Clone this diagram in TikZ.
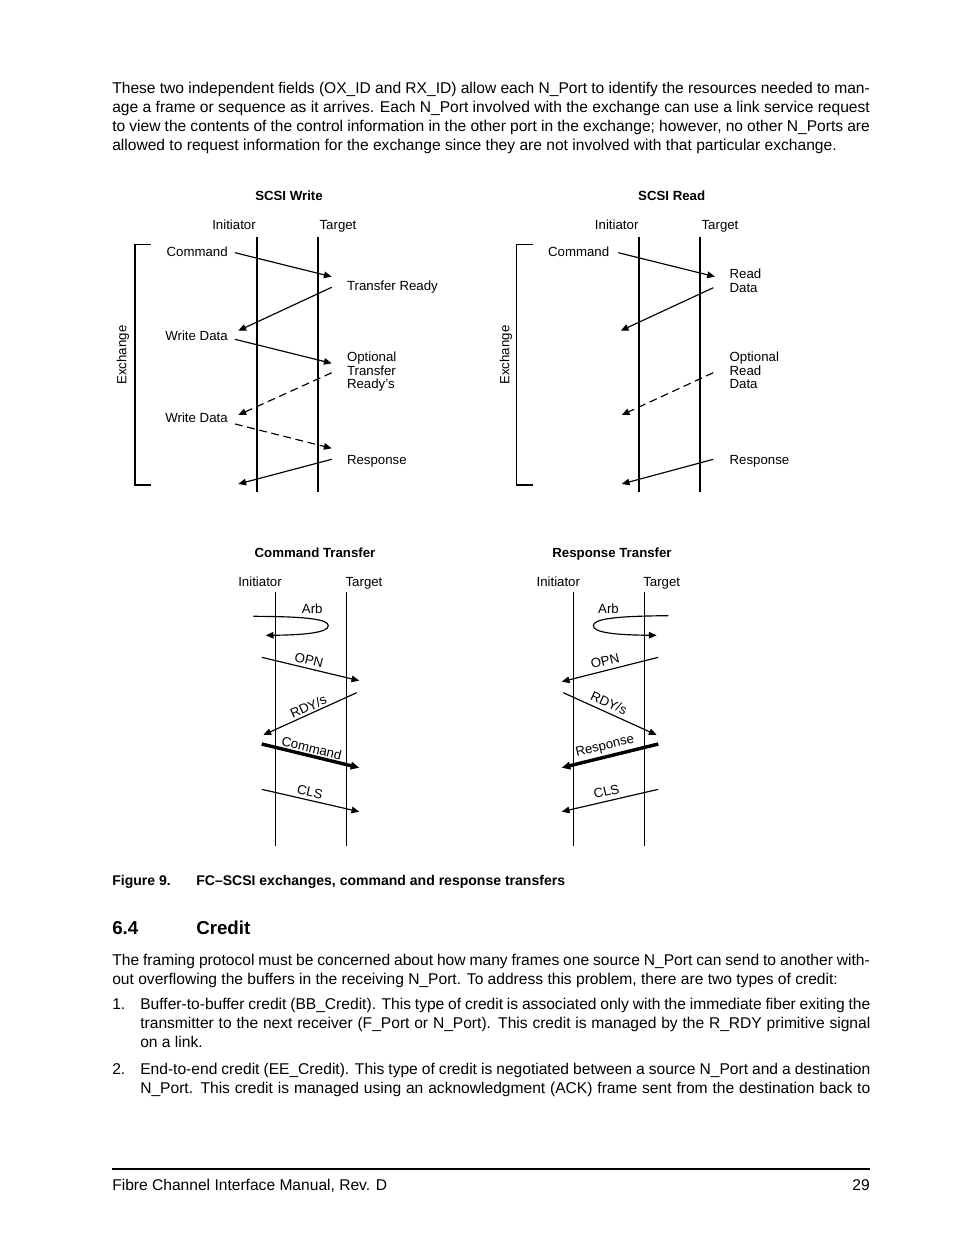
\documentclass[tikz,border=0pt]{standalone}
\usepackage{fontspec}
\setmainfont{Liberation Sans}
\usetikzlibrary{arrows.meta}

% justified line of running text
\newcommand{\jline}[2]{\makebox[#1][s]{#2}}

\begin{document}
\begin{tikzpicture}[
		x=0.6415pt, y=-0.6415pt,
		every node/.style={font=\fontsize{8.5}{10}\selectfont, inner sep=0pt},
		body/.style={font=\fontsize{10}{12}\selectfont, anchor=base west},
		title/.style={font=\bfseries\fontsize{8.5}{10}\selectfont, anchor=base},
		head/.style={anchor=base},
		lbl/.style={anchor=base west, align=left, font=\fontsize{8.5}{8.7}\selectfont},
		lblr/.style={anchor=base east},
		lifeline/.style={line width=1pt},
		msg/.style={line width=0.75pt, -{Triangle[length=5pt,width=4.2pt]}},
		opt/.style={msg, dash pattern=on 5pt off 3pt},
		heavy/.style={line width=2.2pt, -{Triangle[length=5.5pt,width=4.8pt]}}
		]
		\useasboundingbox (0,0) rectangle (954,1235);
		
		% Texto inicial
		\node[body] (p1a) at (112,93) {\jline{486pt}{These two independent fields (OX\_ID and RX\_ID) allow each N\_Port to identify the resources needed to man-}};
		\node[body] (p1b) at (112,112) {\jline{486pt}{age a frame or sequence as it arrives. Each N\_Port involved with the exchange can use a link service request}};
		\node[body] (p1c) at (112,131) {\jline{486pt}{to view the contents of the control information in the other port in the exchange; however, no other N\_Ports are}};
		\node[body] (p1d) at (112,150) {allowed to request information for the exchange since they are not involved with that particular exchange.};
		
		% SCSI Write
		\node[title] (wtitle) at (289,200.5) {SCSI Write};
		\node[head] (wini) at (234,229.5) {Initiator};
		\node[head] (wtgt) at (338,229.5) {Target};
		\draw[lifeline] (257,237) coordinate (wi1) -- (257,492) coordinate (wi2);
		\draw[lifeline] (318,237) coordinate (wt1) -- (318,492) coordinate (wt2);
		\draw[line width=0.9pt] (151,244.3) -- (135,244.3) -- (135,485) -- (151,485);
		\node[rotate=90] (wexch) at (123,355) {Exchange};
		
		\node[lblr] (wcmd) at (228,256.5) {Command};
		\node[lbl] (wxfr) at (346.7,290.5) {Transfer Ready};
		\node[lblr] (wdat1) at (228,340.3) {Write Data};
		\node[lbl] (wopt) at (346.7,388.7) {Optional\\Transfer\\Ready’s};
		\node[lblr] (wdat2) at (228,422) {Write Data};
		\node[lbl] (wrsp) at (346.7,464) {Response};
		
		\coordinate (wa1) at (235,252.7);   \coordinate (wb1) at (331.7,276.7);
		\coordinate (wa2) at (331.7,287.3); \coordinate (wb2) at (238.3,330.7);
		\coordinate (wa3) at (235,339.3);   \coordinate (wb3) at (331.7,363.3);
		\coordinate (wa4) at (331.7,372.7); \coordinate (wb4) at (238.3,415);
		\coordinate (wa5) at (235,424);     \coordinate (wb5) at (331.7,448.3);
		\coordinate (wa6) at (331.7,459.3); \coordinate (wb6) at (238.3,484);
		\draw[msg] (wa1) -- (wb1);
		\draw[msg] (wa2) -- (wb2);
		\draw[msg] (wa3) -- (wb3);
		\draw[opt] (wa4) -- (wb4);
		\draw[opt] (wa5) -- (wb5);
		\draw[msg] (wa6) -- (wb6);
		
		% SCSI Read
		\node[title] (rtitle) at (671.7,200.5) {SCSI Read};
		\node[head] (rini) at (616.7,229.5) {Initiator};
		\node[head] (rtgt) at (720,229.5) {Target};
		\draw[lifeline] (639,237) coordinate (ri1) -- (639,492) coordinate (ri2);
		\draw[lifeline] (700,237) coordinate (rt1) -- (700,492) coordinate (rt2);
		\draw[line width=0.9pt] (532.7,244.3) -- (516.7,244.3) -- (516.7,485) -- (532.7,485);
		\node[rotate=90] (rexch) at (506,355) {Exchange};
		
		\node[lblr] (rcmd) at (609.5,256.5) {Command};
		\node[lbl] (rdat) at (729.3,292.4) {Read\\Data};
		\node[lbl] (ropt) at (729.3,388.7) {Optional\\Read\\Data};
		\node[lbl] (rrsp) at (729.3,464) {Response};
		
		\coordinate (ra1) at (618.3,252.7); \coordinate (rb1) at (715,276.7);
		\coordinate (ra2) at (713.3,287.7); \coordinate (rb2) at (620.7,330.7);
		\coordinate (ra3) at (713.3,372.7); \coordinate (rb3) at (621.7,415);
		\coordinate (ra4) at (713.3,459.3); \coordinate (rb4) at (621.7,484);
		\draw[msg] (ra1) -- (rb1);
		\draw[msg] (ra2) -- (rb2);
		\draw[opt] (ra3) -- (rb3);
		\draw[msg] (ra4) -- (rb4);
		
		% Command Transfer
		\node[title] (ctitle) at (315,557) {Command Transfer};
		\node[head] (cini) at (260,586.4) {Initiator};
		\node[head] (ctgt) at (364,586.4) {Target};
		\draw[lifeline] (275.7,591.7) coordinate (ci1) -- (275.7,846) coordinate (ci2);
		\draw[lifeline] (346.7,591.7) coordinate (ct1) -- (346.7,846) coordinate (ct2);
		
		\node (carb) at (312.3,608.3) {Arb};
		\coordinate (carbs) at (253.3,616.3); \coordinate (carbe) at (265.7,635.3);
		\draw[msg] (carbs) .. controls (305,616.5) and (328.3,619) .. (328.3,625.7)
			.. controls (328.3,632.5) and (305,635) .. (carbe);
		
		\coordinate (ca1) at (261.7,657.3); \coordinate (cb1) at (359.3,680.7);
		\coordinate (ca2) at (356.7,692.7); \coordinate (cb2) at (263.3,735);
		\coordinate (ca3) at (261.7,744);   \coordinate (cb3) at (359.3,767.7);
		\coordinate (ca4) at (261.7,789.3); \coordinate (cb4) at (359.3,811.7);
		\draw[msg] (ca1) -- (cb1);
		\draw[msg] (ca2) -- (cb2);
		\draw[heavy] (ca3) -- (cb3);
		\draw[msg] (ca4) -- (cb4);
		\node[rotate=-13.5] (copn) at (309,660) {OPN};
		\node[rotate=24.4] (crdy) at (308.3,706.7) {RDY/s};
		\node[rotate=-13.6] (ccmd) at (311.7,748.3) {Command};
		\node[rotate=-13] (ccls) at (310,792) {CLS};
		
		% Response Transfer
		\node[title] (stitle) at (612,557) {Response Transfer};
		\node[head] (sini) at (558.3,586.4) {Initiator};
		\node[head] (stgt) at (661.7,586.4) {Target};
		\draw[lifeline] (573.3,591.7) coordinate (si1) -- (573.3,846) coordinate (si2);
		\draw[lifeline] (644.3,591.7) coordinate (st1) -- (644.3,846) coordinate (st2);
		
		\node (sarb) at (608.5,608.3) {Arb};
		\coordinate (sarbs) at (668.3,615.7); \coordinate (sarbe) at (656.7,635.3);
		\draw[msg] (sarbs) .. controls (615,616) and (593.3,619) .. (593.3,625.7)
			.. controls (593.3,632.5) and (615,635) .. (sarbe);
		
		\coordinate (sa1) at (658.3,657.3); \coordinate (sb1) at (561.7,681.7);
		\coordinate (sa2) at (563.3,692.7); \coordinate (sb2) at (656.7,735);
		\coordinate (sa3) at (658.3,744);   \coordinate (sb3) at (561.7,767.7);
		\coordinate (sa4) at (658.3,789.3); \coordinate (sb4) at (561.7,811.7);
		\draw[msg] (sa1) -- (sb1);
		\draw[msg] (sa2) -- (sb2);
		\draw[heavy] (sa3) -- (sb3);
		\draw[msg] (sa4) -- (sb4);
		\node[rotate=14] (sopn) at (605,661) {OPN};
		\node[rotate=-24.4] (srdy) at (609,703) {RDY/s};
		\node[rotate=13.6] (srsp) at (605,746.5) {Response};
		\node[rotate=13] (scls) at (606.5,791.5) {CLS};
		
		% Pie de figura y texto
		\node[body, font=\bfseries\fontsize{9}{11}\selectfont] (fignum) at (112,885.5) {Figure 9.};
		\node[body, font=\bfseries\fontsize{9}{11}\selectfont] (figcap) at (196,885.5) {FC--SCSI exchanges, command and response transfers};
		\node[body, font=\bfseries\fontsize{12}{14}\selectfont] (secnum) at (112,934) {6.4};
		\node[body, font=\bfseries\fontsize{12}{14}\selectfont] (sectit) at (196,934) {Credit};
		
		\node[body] (p2a) at (112,965.5) {\jline{486pt}{The framing protocol must be concerned about how many frames one source N\_Port can send to another with-}};
		\node[body] (p2b) at (112,984.5) {out overflowing the buffers in the receiving N\_Port. To address this problem, there are two types of credit:};
		
		\node[body] (n1) at (112,1009) {1.};
		\node[body] (i1a) at (140,1009) {\jline{468.3pt}{Buffer-to-buffer credit (BB\_Credit). This type of credit is associated only with the immediate fiber exiting the}};
		\node[body] (i1b) at (140,1028) {\jline{468.3pt}{transmitter to the next receiver (F\_Port or N\_Port). This credit is managed by the R\_RDY primitive signal}};
		\node[body] (i1c) at (140,1047) {on a link.};
		\node[body] (n2) at (112,1074) {2.};
		\node[body] (i2a) at (140,1074) {\jline{468.3pt}{End-to-end credit (EE\_Credit). This type of credit is negotiated between a source N\_Port and a destination}};
		\node[body] (i2b) at (140,1093) {\jline{468.3pt}{N\_Port. This credit is managed using an acknowledgment (ACK) frame sent from the destination back to}};
		
		% Pie de página
		\draw[line width=0.7pt] (112,1169) coordinate (fl) -- (870,1169) coordinate (fr);
		\node[body] (foot) at (112,1190) {Fibre Channel Interface Manual, Rev. D};
		\node[body, anchor=base east] (page) at (870,1190) {29};
		
	\end{tikzpicture}
\end{document}
